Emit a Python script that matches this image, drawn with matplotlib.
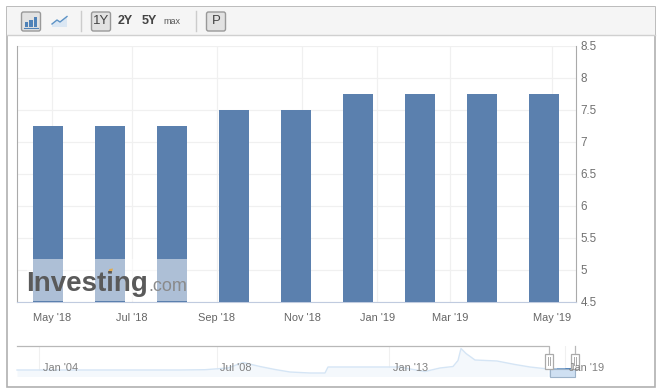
import matplotlib
matplotlib.use('Agg')
import matplotlib.pyplot as plt
from matplotlib.patches import Rectangle, FancyBboxPatch, Polygon

plt.rcParams['font.family'] = ['Liberation Sans', 'DejaVu Sans']

W, H = 662, 392

# bars, x is the bar number
rates = [7.25, 7.25, 7.25, 7.5, 7.5, 7.75, 7.75, 7.75, 7.75]
month_labels = ["May '18", "Jul '18", "Sep '18", "Nov '18", "Jan '19", "Mar '19", "May '19"]
month_pos = [0.065, 1.355, 2.72, 4.10, 5.31, 6.48, 8.13]
y_ticks = [4.5, 5, 5.5, 6, 6.5, 7, 7.5, 8, 8.5]
y_labels = ['4.5', '5', '5.5', '6', '6.5', '7', '7.5', '8', '8.5']

# navigator series, x is the pixel along the strip
mini_x = [17, 60, 120, 180, 205, 228, 243, 260, 275, 290, 310, 325, 328, 360, 400, 413, 425, 440, 453, 458, 461, 466, 475, 497, 515, 530, 548]
mini_y = [6.5, 6.5, 6.5, 6.5, 6.8, 8.5, 14, 10, 7, 4.5, 3.5, 3.5, 9.5, 9.5, 9.5, 7, 5, 8.5, 10, 16, 28, 23, 16.5, 15.5, 12, 9.5, 7.5]
sel_x = [549, 557.5, 557.6, 566, 566.1, 574]
sel_y = [7.25, 7.25, 7.5, 7.5, 7.75, 7.75]
mini_labels = ["Jan '04", "Jul '08", "Jan '13", "Jan '19"]
mini_label_pos = [61, 236, 411, 587]
mini_grid = [39, 217, 389, 565]

fig = plt.figure(figsize=(W / 100, H / 100), dpi=100)


def box(left, top, right, bottom):
    return [left / W, 1 - bottom / H, (right - left) / W, (bottom - top) / H]


# main chart
ax = fig.add_axes(box(16.5, 46, 575.5, 301.5))
ax.bar(range(len(rates)), rates, width=0.484, color='#5b80ae', zorder=3)
ax.set_xlim((16.5 - 48) / 62, (575.5 - 48) / 62)
ax.set_ylim(4.5, 8.5)
ax.set_xticks(month_pos)
ax.set_xticklabels(month_labels, fontsize=7.9, color='#666666')
ax.yaxis.tick_right()
ax.set_yticks(y_ticks)
ax.set_yticklabels(y_labels, fontsize=8.4, color='#707070')
ax.tick_params(axis='x', length=0, pad=8)
ax.tick_params(axis='y', length=0, pad=3.5)
ax.grid(True, color='#f0f0f0', lw=0.9, zorder=0)
ax.set_axisbelow(True)
ax.spines['top'].set_visible(False)
ax.spines['left'].set_color('#aaaaaa')
ax.spines['right'].set_color('#aaaaaa')
ax.spines['bottom'].set_color('#c0cbdf')

# navigator strip
mini = fig.add_axes(box(0, 346, 662, 376.5))
mini.patch.set_alpha(0)
mini.set_xlim(0, 662)
mini.set_ylim(0, 30.5)
mini.axis('off')
for g in mini_grid:
    mini.axvline(g, color='#f0f0f0', lw=0.8, zorder=0)
mini.fill_between(mini_x, mini_y, 0, color='#f4f8fc', lw=0, zorder=1)
mini.plot(mini_x, mini_y, color='#d5e5f5', lw=1, zorder=2)
mini.fill_between(sel_x, sel_y, 0, color='#cfe0f2', lw=0, zorder=1)
mini.plot(sel_x, sel_y, color='#4a7fb8', lw=1, zorder=3)

# page furniture in pixel coords
top = fig.add_axes([0, 0, 1, 1], zorder=5)
top.patch.set_alpha(0)
top.set_xlim(0, W)
top.set_ylim(H, 0)
top.axis('off')

top.add_patch(Rectangle((6.5, 6.5), 648.5, 380.5, fc='none', ec='#b0b0b0', lw=1.2))
top.add_patch(Rectangle((7, 7), 647.5, 28, fc='#f5f5f5', ec='none'))
top.plot([7, 655], [35, 35], color='#d0d0d0', lw=1)
top.plot([80.5, 80.5], [11, 31], color='#cccccc', lw=1)
top.plot([195.5, 195.5], [11, 31], color='#cccccc', lw=1)

for x0 in [21.5, 91.5, 206.5]:
    top.add_patch(FancyBboxPatch((x0, 12), 19, 19, boxstyle='round,pad=0,rounding_size=2',
                                 fc='#e2e2e2', ec='#999999', lw=1))

# bar icon
for x0, h0 in zip([24.5, 29, 33.5], [5, 7, 10]):
    top.add_patch(Rectangle((x0, 27 - h0), 3.5, h0, fc='#4f82b8', ec='none'))
top.plot([24, 38], [27.5, 27.5], color='#4f82b8', lw=0.8)
# line icon
top.add_patch(Polygon([(52, 27), (52, 24), (57, 20), (60, 22), (67, 16.5), (67, 27)], fc='#dbe7f3', ec='none'))
top.plot([52, 57, 60, 67], [24, 20, 22, 16.5], color='#5d93c6', lw=1)

tb = dict(ha='center', va='center', color='#444444')
top.text(101.5, 21, '1Y', fontsize=9.5, **tb)
top.text(125, 21, '2Y', fontsize=9, fontweight='bold', **tb)
top.text(149, 21, '5Y', fontsize=9, fontweight='bold', **tb)
top.text(172, 21, 'max', fontsize=6.5, color='#555555', ha='center', va='center')
top.text(216, 21, 'P', fontsize=9.5, **tb)

# logo with its white veil
top.add_patch(Rectangle((27, 259), 160, 41.5, fc='white', ec='none', alpha=0.5))
top.text(26.5, 291, 'Investing', fontsize=20, fontweight='bold', color='#5a5a5a', ha='left', va='baseline')
top.text(148.5, 291, '.com', fontsize=13, color='#8a8a8a', ha='left', va='baseline')
top.add_patch(Polygon([(107.5, 273), (109.5, 269), (113, 268.5), (112, 272)], fc='#e2ab4e', ec='none'))

# navigator frame and handles
top.plot([17, 549, 549], [346, 346, 353], color='#b8b8b8', lw=0.9)
top.plot([574.5, 574.5], [346, 353], color='#b8b8b8', lw=0.9)
top.add_patch(Rectangle((549.5, 368.5), 25, 8, fc='#cfe0f2', ec='#9db3c9', lw=0.8))
for x0 in [544.5, 570.5]:
    top.add_patch(Rectangle((x0, 353.5), 8, 15, fc='white', ec='#aaaaaa', lw=0.9))
    top.plot([x0 + 3, x0 + 3], [357, 365], color='#aaaaaa', lw=0.7)
    top.plot([x0 + 5, x0 + 5], [357, 365], color='#aaaaaa', lw=0.7)
for lab, p in zip(mini_labels, mini_label_pos):
    top.text(p, 368, lab, fontsize=7.9, color='#808080', ha='center', va='center')

fig.savefig('out.png', dpi=100)
